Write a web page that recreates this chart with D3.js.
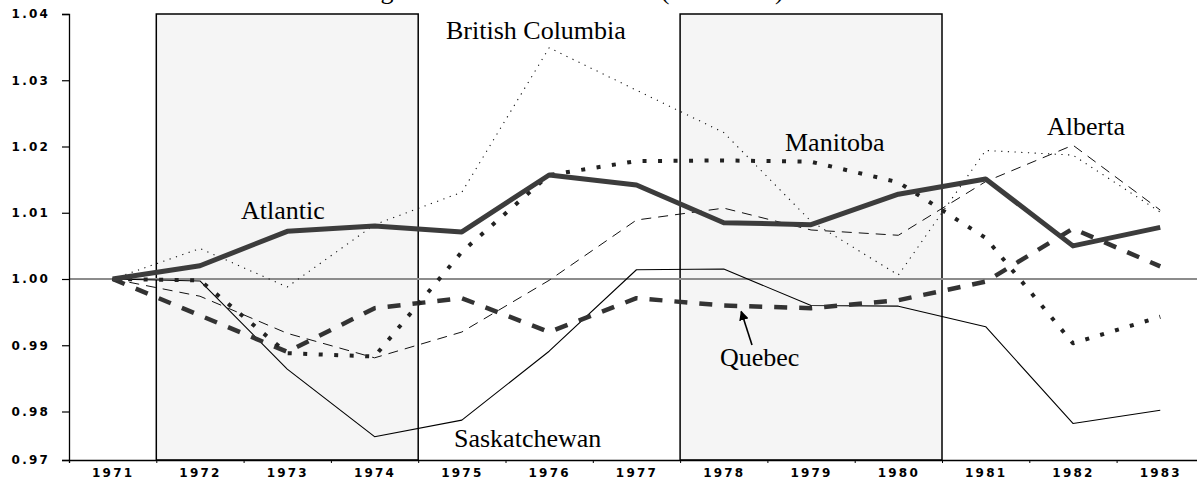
<!DOCTYPE html>
<html>
<head>
<meta charset="utf-8">
<script src="https://cdn.jsdelivr.net/npm/d3@7/dist/d3.min.js"></script>
<style>
  html, body { margin: 0; padding: 0; background: #fff; overflow: hidden; }
  svg { display: block; }
  .tick text { font-family: "DejaVu Sans", sans-serif; font-weight: bold; font-size: 12px; letter-spacing: 2.2px; fill: #000; }
  .lbl { font-family: "Liberation Serif", "Times New Roman", serif; font-size: 26px; fill: #000; }
</style>
</head>
<body>
<svg id="chart" width="1197" height="492"></svg>
<script>
// ---------------- data ----------------
const years = [1971, 1972, 1973, 1974, 1975, 1976, 1977, 1978, 1979, 1980, 1981, 1982, 1983];
const atlantic     = [1.0000, 1.0020, 1.0072, 1.0080, 1.0071, 1.0157, 1.0142, 1.0085, 1.0082, 1.0128, 1.0151, 1.0050, 1.0078];
const britishCol   = [1.0000, 1.0046, 0.9988, 1.0082, 1.0131, 1.0349, 1.0285, 1.0221, 1.0087, 1.0006, 1.0194, 1.0187, 1.0101];
const alberta      = [1.0000, 0.9974, 0.9918, 0.9881, 0.9920, 0.9998, 1.0089, 1.0107, 1.0074, 1.0066, 1.0147, 1.0202, 1.0104];
const saskatchewan = [1.0000, 0.9997, 0.9864, 0.9762, 0.9787, 0.9891, 1.0014, 1.0015, 0.9960, 0.9959, 0.9928, 0.9782, 0.9802];
const quebec       = [1.0000, 0.9945, 0.9890, 0.9956, 0.9971, 0.9920, 0.9971, 0.9960, 0.9956, 0.9968, 0.9996, 1.0076, 1.0019];
const manitoba     = [1.0000, 0.9998, 0.9888, 0.9883, 1.0041, 1.0157, 1.0178, 1.0179, 1.0177, 1.0146, 1.0062, 0.9903, 0.9943];
const yTickValues  = [0.98, 0.99, 1.00, 1.01, 1.02, 1.03, 1.04];
const yTickLabels  = ["0.97", "0.98", "0.99", "1.00", "1.01", "1.02", "1.03", "1.04"];
const xTickLabels  = ["1971","1972","1973","1974","1975","1976","1977","1978","1979","1980","1981","1982","1983"];
const shadeStart   = [1972, 1978];
const shadeEnd     = [1974, 1980];
const titleText    = "Average Relative Farm Incomes (Canada=1)";

(function () {
// ---------------- layout ----------------
const W = 1197, H = 492;
const plotLeft = 69, plotTop = 14, plotBottom = 460, step = 87.3;
const svg = d3.select("#chart");

const x = d3.scaleLinear().domain([years[0] - 0.5, years[years.length - 1] + 0.5])
  .range([plotLeft, plotLeft + step * years.length]);
const yBase = d3.scaleLinear().domain([1.00, 1.04]).range([279, plotTop]);
const y = yBase.copy().domain([yBase.invert(plotBottom), 1.04]).range([plotBottom, plotTop]);

// title (cut off at top as in the original)
svg.append("text").attr("class", "lbl")
  .attr("x", 319).attr("y", -1.5).text(titleText);

// shaded periods
svg.selectAll("rect.shade").data(shadeStart).join("rect")
  .attr("class", "shade")
  .attr("x", (d) => x(d - 0.5))
  .attr("y", y(1.04))
  .attr("width", (d, i) => x(shadeEnd[i] + 0.5) - x(d - 0.5))
  .attr("height", y.range()[0] - y(1.04))
  .attr("fill", "#f5f5f5")
  .attr("stroke", "#000")
  .attr("stroke-width", 1.5);

// reference line at 1.00
svg.append("line")
  .attr("x1", plotLeft).attr("x2", W)
  .attr("y1", y(1.00)).attr("y2", y(1.00))
  .attr("stroke", "#8c8c8c").attr("stroke-width", 2);

// series
const series = [
  { name: "Saskatchewan", values: saskatchewan, color: "#000", width: 1.1, dash: null },
  { name: "Alberta", values: alberta, color: "#111", width: 1, dash: "10,7" },
  { name: "British Columbia", values: britishCol, color: "#111", width: 1.1, dash: "1.2,5.5" },
  { name: "Quebec", values: quebec, color: "#333", width: 4.5, dash: "13,12" },
  { name: "Manitoba", values: manitoba, color: "#222", width: 4, dash: "4,11.5" },
  { name: "Atlantic", values: atlantic, color: "#3c3c3c", width: 5, dash: null }
];
const line = d3.line().x((d, i) => x(years[i])).y((d) => y(d));
svg.selectAll("path.series").data(series).join("path")
  .attr("class", "series")
  .attr("d", (s) => line(s.values))
  .attr("fill", "none")
  .attr("stroke", (s) => s.color)
  .attr("stroke-width", (s) => s.width)
  .attr("stroke-dasharray", (s) => s.dash)
  .attr("stroke-linejoin", "round");

// y axis
const yAxis = d3.axisLeft(y)
  .tickValues([y.domain()[0]].concat(yTickValues))
  .tickFormat((d, i) => yTickLabels[i])
  .tickSize(7).tickPadding(12);
const gy = svg.append("g").attr("transform", `translate(${plotLeft},0)`).call(yAxis);
gy.select(".domain").attr("stroke", "#000").attr("stroke-width", 1.3);
gy.selectAll(".tick line").attr("stroke", "#000").attr("stroke-width", 1.2);

// x axis: boundary ticks
const boundaries = years.slice(0, -1).map((d) => d + 0.5);
const gx = svg.append("g").attr("transform", `translate(0,${plotBottom})`)
  .call(d3.axisBottom(x).tickValues(boundaries).tickFormat("").tickSizeOuter(0).tickSize(3));
gx.select(".domain").attr("stroke", "#000").attr("stroke-width", 1.3);
gx.selectAll(".tick line").attr("stroke", "#000");
// x axis labels
const gxl = svg.append("g").attr("transform", `translate(0,${plotBottom})`)
  .call(d3.axisBottom(x).tickValues(years).tickFormat((d, i) => xTickLabels[i]).tickSize(0).tickPadding(8));
gxl.select(".domain").remove();

// series labels
const labels = [
  { text: "British Columbia", x: 446, y: 39 },
  { text: "Atlantic", x: 241, y: 219 },
  { text: "Manitoba", x: 785, y: 151 },
  { text: "Alberta", x: 1047, y: 135 },
  { text: "Saskatchewan", x: 454, y: 447 },
  { text: "Quebec", x: 720, y: 366 }
];
svg.selectAll("text.lbl2").data(labels).join("text")
  .attr("class", "lbl lbl2")
  .attr("x", (d) => d.x).attr("y", (d) => d.y)
  .text((d) => d.text);

// arrow from Quebec label to its line
const ax0 = 752, ay0 = 345, ax1 = x(1978.2), ay1 = y(quebec[7]) + 6;
svg.append("defs").append("marker")
  .attr("id", "ah").attr("viewBox", "0 0 10 10").attr("refX", 9).attr("refY", 5)
  .attr("markerWidth", 6).attr("markerHeight", 6).attr("orient", "auto")
  .append("path").attr("d", "M0,0 L10,5 L0,10 Z").attr("fill", "#000");
svg.append("line")
  .attr("x1", ax0).attr("y1", ay0).attr("x2", ax1).attr("y2", ay1)
  .attr("stroke", "#000").attr("stroke-width", 1.6)
  .attr("marker-end", "url(#ah)");
})();
</script>
</body>
</html>
